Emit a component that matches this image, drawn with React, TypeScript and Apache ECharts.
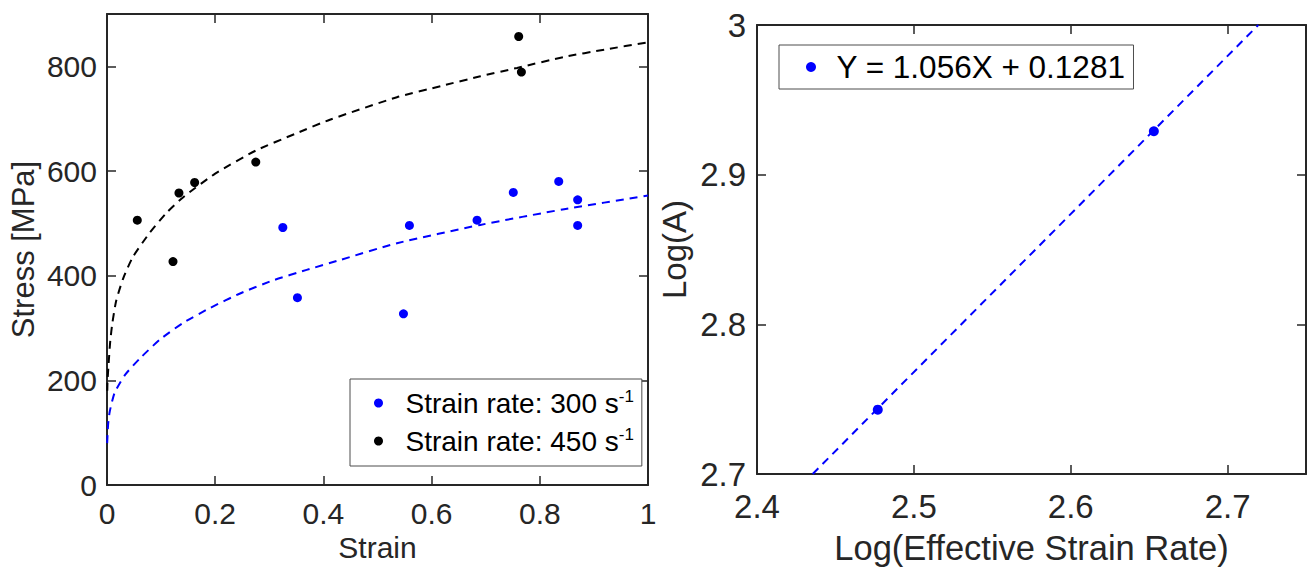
import React, { useEffect, useRef } from "react";
import * as echarts from "echarts";

// ---- Left panel: stress vs strain ----
const rate300Strain = [0.325, 0.352, 0.548, 0.559, 0.684, 0.751, 0.835, 0.870, 0.870];
const rate300Stress = [492, 358, 327, 496, 506, 559, 580, 545, 496];
const rate450Strain = [0.056, 0.122, 0.133, 0.162, 0.275, 0.761, 0.766];
const rate450Stress = [506, 427, 558, 578, 617, 857, 789];

const fit300Strain = [0.0003, 0.002, 0.005, 0.014, 0.033, 0.061, 0.098, 0.141, 0.19, 0.246, 0.307, 0.369, 0.431, 0.536, 0.69, 0.845, 1.0];
const fit300Stress = [80, 115, 140, 176, 210, 242, 278, 310, 338, 366, 391, 411, 430, 462, 497, 527, 553];
const fit450Strain = [0.0005, 0.001, 0.003, 0.006, 0.01, 0.017, 0.03, 0.048, 0.079, 0.11, 0.141, 0.2, 0.275, 0.35, 0.412, 0.536, 0.62, 0.69, 0.758, 0.845, 0.92, 1.0];
const fit450Stress = [180, 200, 232, 275, 310, 352, 395, 436, 482, 520, 550, 595, 639, 672, 698, 741, 763, 781, 797, 818, 832, 846];

const rateNames = ["Strain rate: 300 s-1", "Strain rate: 450 s-1"];
const rateLabels = ["Strain rate: 300 s", "Strain rate: 450 s"];
const unitSup = "-1";

// ---- Right panel: log(A) vs log(rate) ----
const logRate = [2.477, 2.653];
const logA = [2.743, 2.929];
const fitLineX = [2.4355, 2.7196];
const fitLineY = [2.7, 3.0];
const fitName = "Y = 1.056X + 0.1281";

const FONT = "'Liberation Sans', Arial, Helvetica, sans-serif";
const AX = "#262626";

function zip(a: number[], b: number[]) {
  return a.map((v, i) => [v, b[i]]);
}

export default function App() {
  const ref = useRef<HTMLDivElement>(null);
  useEffect(() => {
    if (!ref.current) return;
    const chart = echarts.init(ref.current, undefined, { renderer: "svg" });

    const axisLine = { show: true, onZero: false, lineStyle: { color: AX, width: 2 } };
    const tickIn = { show: true, inside: true, length: 9, lineStyle: { color: AX, width: 1.5 } };
    const frameAxis = (extra: any) => ({
      type: "value",
      axisLine,
      axisTick: tickIn,
      axisLabel: { show: false },
      splitLine: { show: false },
      ...extra,
    });

    const option: any = {
      animation: false,
      backgroundColor: "#ffffff",
      textStyle: { fontFamily: FONT },
      grid: [
        { left: 107, top: 14, width: 541, height: 471 },
        { left: 757, top: 25, width: 549, height: 450 },
      ],
      xAxis: [
        {
          type: "value", gridIndex: 0, min: 0, max: 1, interval: 0.2,
          axisLine, axisTick: tickIn, splitLine: { show: false },
          axisLabel: { fontSize: 30, color: AX, fontFamily: FONT, margin: 13 },
          name: "Strain", nameLocation: "middle", nameGap: 47,
          nameTextStyle: { fontSize: 30, color: AX, fontFamily: FONT },
        },
        frameAxis({ gridIndex: 0, position: "top", min: 0, max: 1, interval: 0.2 }),
        {
          type: "value", gridIndex: 1, min: 2.4, max: 2.75, interval: 0.1,
          axisLine, axisTick: tickIn, splitLine: { show: false },
          axisLabel: { fontSize: 33, color: AX, fontFamily: FONT, margin: 16, showMaxLabel: false },
          name: "Log(Effective Strain Rate)", nameLocation: "middle", nameGap: 56,
          nameTextStyle: { fontSize: 34.5, color: AX, fontFamily: FONT },
        },
        frameAxis({ gridIndex: 1, position: "top", min: 2.4, max: 2.75, interval: 0.1 }),
      ],
      yAxis: [
        {
          type: "value", gridIndex: 0, min: 0, max: 900, interval: 200,
          axisLine, axisTick: tickIn, splitLine: { show: false },
          axisLabel: { fontSize: 30, color: AX, fontFamily: FONT, margin: 10, showMaxLabel: false },
          name: "Stress [MPa]", nameLocation: "middle", nameGap: 68,
          nameTextStyle: { fontSize: 31, color: AX, fontFamily: FONT },
        },
        frameAxis({ gridIndex: 0, position: "right", min: 0, max: 900, interval: 200 }),
        {
          type: "value", gridIndex: 1, min: 2.7, max: 3.0, interval: 0.1,
          axisLine, axisTick: tickIn, splitLine: { show: false },
          axisLabel: { fontSize: 33, color: AX, fontFamily: FONT, margin: 11 },
          name: "Log(A)", nameLocation: "middle", nameGap: 66,
          nameTextStyle: { fontSize: 33, color: AX, fontFamily: FONT },
        },
        frameAxis({ gridIndex: 1, position: "right", min: 2.7, max: 3.0, interval: 0.1 }),
      ],
      legend: [
        {
          data: rateNames,
          orient: "vertical",
          left: 350, top: 379,
          padding: [9, 8, 11, 24],
          itemGap: 9,
          itemWidth: 44, itemHeight: 9,
          icon: "circle",
          borderColor: "#4d4d4d", borderWidth: 1,
          backgroundColor: "#ffffff",
          selectedMode: false,
          formatter: (name: string) => {
            const i = rateNames.indexOf(name);
            return `{m|${rateLabels[i]}}{s|${unitSup}}`;
          },
          textStyle: {
            fontFamily: FONT, fontSize: 28, color: "#000",
            rich: {
              m: { fontSize: 28, fontFamily: FONT, color: "#000", lineHeight: 30 },
              s: { fontSize: 17, fontFamily: FONT, color: "#000", verticalAlign: "top", lineHeight: 17 },
            },
          },
        },
        {
          data: [fitName],
          left: 779, top: 45,
          padding: [5, 8, 5, 27],
          itemWidth: 41, itemHeight: 10,
          icon: "circle",
          borderColor: "#4d4d4d", borderWidth: 1,
          backgroundColor: "#ffffff",
          selectedMode: false,
          textStyle: { fontFamily: FONT, fontSize: 31.5, color: "#000", lineHeight: 34 },
        },
      ],
      series: [
        {
          type: "line", name: "fit300", xAxisIndex: 0, yAxisIndex: 0,
          data: zip(fit300Strain, fit300Stress), showSymbol: false, smooth: 0.2,
          lineStyle: { color: "#0000ff", width: 2, type: [8, 6] }, silent: true,
        },
        {
          type: "line", name: "fit450", xAxisIndex: 0, yAxisIndex: 0,
          data: zip(fit450Strain, fit450Stress), showSymbol: false, smooth: 0.2,
          lineStyle: { color: "#000000", width: 2, type: [8, 6] }, silent: true,
        },
        {
          type: "scatter", name: rateNames[0], xAxisIndex: 0, yAxisIndex: 0,
          data: zip(rate300Strain, rate300Stress), symbol: "circle", symbolSize: 9,
          itemStyle: { color: "#0000ff", opacity: 1 },
        },
        {
          type: "scatter", name: rateNames[1], xAxisIndex: 0, yAxisIndex: 0,
          data: zip(rate450Strain, rate450Stress), symbol: "circle", symbolSize: 9,
          itemStyle: { color: "#000000", opacity: 1 },
        },
        {
          type: "line", name: "fitLog", xAxisIndex: 2, yAxisIndex: 2,
          data: zip(fitLineX, fitLineY), showSymbol: false,
          lineStyle: { color: "#0000ff", width: 2, type: [8, 6] }, silent: true,
        },
        {
          type: "scatter", name: fitName, xAxisIndex: 2, yAxisIndex: 2,
          data: zip(logRate, logA), symbol: "circle", symbolSize: 10,
          itemStyle: { color: "#0000ff", opacity: 1 },
        },
      ],
    };
    chart.setOption(option);
    return () => chart.dispose();
  }, []);

  return (
    <div
      ref={ref}
      style={{ position: "fixed", left: 0, top: 0, width: 1308, height: 570, background: "#fff" }}
    />
  );
}
